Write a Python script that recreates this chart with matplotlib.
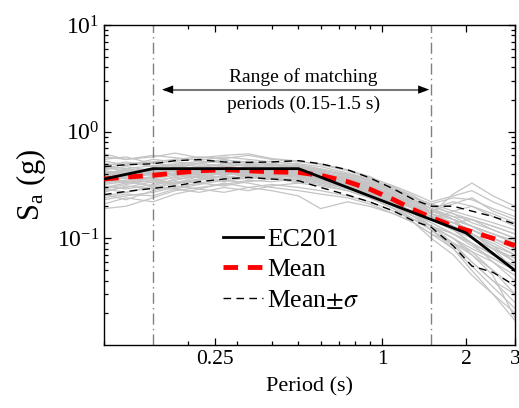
import numpy as np
import matplotlib
matplotlib.use("Agg")
import matplotlib.pyplot as plt
from matplotlib.ticker import FixedLocator, LogLocator, NullFormatter, FuncFormatter, LogFormatterSciNotation

plt.rcParams['font.family'] = ['Liberation Serif', 'DejaVu Serif']
plt.rcParams['mathtext.fontset'] = 'stix'

# ---- data ----
periods = [0.1, 0.12, 0.15, 0.18, 0.22, 0.27, 0.33, 0.4, 0.5, 0.6, 0.75, 0.9, 1.1, 1.3, 1.5, 1.8, 2.1, 2.5, 3.0]

records = [
    [.45, .50, .52, .55, .58, .56, .60, .55, .52, .50, .44, .38, .30, .24, .21, .18, .16, .14, .12],
    [.30, .33, .35, .37, .40, .42, .38, .40, .39, .36, .30, .26, .20, .16, .13, .10, .080, .065, .050],
    [.38, .42, .40, .44, .46, .50, .47, .45, .44, .41, .37, .31, .26, .21, .18, .16, .15, .13, .11],
    [.25, .27, .30, .34, .33, .36, .38, .36, .37, .35, .31, .27, .22, .17, .14, .11, .090, .070, .055],
    [.42, .40, .46, .48, .45, .47, .50, .48, .46, .42, .36, .30, .24, .20, .17, .26, .33, .25, .20],
    [.35, .37, .33, .38, .42, .40, .42, .44, .40, .38, .34, .28, .22, .17, .13, .09, .060, .040, .030],
    [.50, .48, .55, .52, .50, .54, .52, .50, .48, .44, .38, .33, .27, .22, .19, .15, .13, .11, .09],
    [.19, .20, .24, .28, .30, .32, .35, .34, .36, .33, .30, .25, .20, .15, .12, .085, .060, .040, .025],
    [.40, .43, .45, .42, .48, .45, .44, .47, .43, .40, .33, .28, .24, .19, .16, .14, .12, .10, .085],
    [.33, .35, .38, .40, .37, .41, .43, .40, .42, .40, .36, .31, .24, .19, .15, .12, .10, .080, .065],
    [.55, .58, .50, .53, .56, .52, .48, .50, .47, .43, .40, .35, .30, .25, .20, .17, .14, .12, .10],
    [.28, .30, .34, .32, .36, .38, .36, .38, .35, .33, .29, .25, .21, .18, .16, .13, .11, .090, .070],
    [.36, .34, .37, .41, .44, .43, .46, .42, .45, .42, .37, .31, .25, .20, .16, .12, .09, .060, .040],
    [.44, .47, .43, .46, .50, .48, .45, .43, .41, .38, .33, .30, .25, .22, .19, .22, .20, .16, .13],
    [.31, .29, .32, .35, .39, .37, .40, .41, .38, .35, .31, .27, .21, .16, .12, .080, .055, .035, .022],
    [.38, .36, .41, .39, .41, .44, .42, .45, .42, .40, .37, .33, .27, .22, .18, .15, .13, .11, .09],
    [.47, .45, .48, .50, .47, .50, .53, .49, .47, .44, .38, .32, .26, .21, .17, .14, .12, .095, .075],
    [.27, .31, .29, .33, .36, .34, .37, .39, .41, .39, .34, .29, .23, .19, .16, .14, .15, .12, .10],
    [.40, .38, .42, .45, .43, .46, .44, .46, .44, .42, .36, .30, .23, .17, .14, .11, .085, .065, .050],
    [.34, .37, .36, .39, .42, .45, .41, .43, .40, .37, .32, .27, .21, .18, .15, .12, .11, .085, .070],
    [.58, .55, .60, .57, .54, .58, .55, .52, .50, .47, .41, .36, .29, .24, .20, .17, .15, .13, .11],
    [.23, .25, .27, .30, .33, .31, .34, .36, .34, .32, .28, .24, .19, .15, .12, .090, .070, .050, .035],
    [.37, .41, .39, .43, .40, .43, .46, .44, .43, .41, .36, .31, .25, .21, .17, .14, .11, .085, .060],
    [.43, .41, .44, .42, .47, .44, .42, .44, .42, .39, .34, .29, .24, .20, .18, .21, .24, .18, .15],
    [.32, .34, .31, .36, .38, .41, .39, .37, .39, .37, .33, .28, .22, .17, .13, .10, .075, .050, .030],
    [.39, .37, .40, .44, .41, .39, .43, .41, .40, .38, .35, .31, .26, .21, .17, .13, .10, .080, .060],
    [.48, .52, .47, .49, .53, .51, .49, .46, .45, .41, .35, .30, .24, .19, .15, .12, .09, .070, .055],
    [.29, .32, .35, .33, .35, .39, .41, .39, .37, .36, .32, .28, .23, .19, .16, .14, .12, .10, .080],
    [.41, .44, .42, .40, .44, .47, .45, .42, .40, .37, .32, .27, .21, .16, .13, .10, .070, .045, .018],
    [.35, .33, .37, .41, .39, .42, .40, .38, .41, .39, .35, .30, .25, .20, .17, .15, .13, .11, .095],
    [.62, .55, .58, .63, .57, .60, .62, .56, .53, .49, .43, .37, .31, .26, .22, .25, .28, .22, .18],
    [.21, .24, .22, .26, .29, .27, .30, .28, .25, .19, .22, .20, .17, .14, .11, .080, .050, .030, .017],
    [.26, .23, .28, .31, .29, .33, .30, .32, .30, .28, .25, .22, .18, .15, .13, .11, .090, .070, .050],
    [.53, .49, .52, .47, .51, .55, .50, .53, .49, .45, .40, .35, .28, .23, .19, .16, .13, .10, .080],
    [.34, .39, .36, .33, .38, .35, .39, .37, .33, .35, .31, .26, .21, .17, .15, .18, .20, .17, .14],
    [.46, .43, .39, .43, .45, .42, .48, .45, .47, .43, .39, .34, .28, .23, .19, .15, .11, .080, .050],
    [.29, .27, .31, .29, .32, .35, .33, .30, .28, .26, .24, .21, .17, .14, .11, .090, .075, .060, .045],
    [.39, .45, .41, .47, .44, .48, .43, .49, .45, .41, .36, .33, .28, .24, .21, .24, .23, .19, .16],
    [.24, .26, .25, .29, .27, .30, .28, .31, .33, .31, .28, .24, .19, .14, .10, .070, .045, .030, .020],
    [.42, .39, .44, .40, .43, .40, .44, .40, .37, .34, .30, .26, .22, .19, .16, .13, .10, .080, .065],
]

mean_sa = [0.36, 0.375, 0.39, 0.41, 0.43, 0.44, 0.43, 0.42, 0.415, 0.39, 0.34, 0.29, 0.23, 0.185, 0.157, 0.13, 0.115, 0.10, 0.0855]
mean_plus = [0.47, 0.49, 0.50, 0.535, 0.547, 0.52, 0.515, 0.52, 0.535, 0.50, 0.44, 0.37, 0.29, 0.23, 0.20, 0.20, 0.18, 0.16, 0.136]
mean_minus = [0.257, 0.275, 0.294, 0.31, 0.34, 0.36, 0.373, 0.36, 0.347, 0.30, 0.255, 0.22, 0.18, 0.145, 0.127, 0.085, 0.055, 0.048, 0.036]

ec_periods = [0.1, 0.15, 0.5, 1.0, 2.0, 3.0]
ec_sa = [0.36, 0.45, 0.45, 0.225, 0.1125, 0.05]

range_lo, range_hi = 0.15, 1.5

# ---- figure ----
fig = plt.figure(figsize=(5.19, 4.08), dpi=100)
ax = fig.add_axes([0.2004, 0.1544, 0.7919, 0.7843])

for rec in records:
    ax.plot(periods, rec, color='#c4c4c4', lw=0.9, zorder=1)

ax.plot(ec_periods, ec_sa, color='black', lw=2.0, label='EC201', zorder=4)
ax.plot(periods, mean_sa, color='red', lw=3.5, ls=(0, (3, 2)), label='Mean', zorder=3)
ax.plot(periods, mean_plus, color='black', lw=1.0, ls=(0, (5.5, 3.8)), label=r'Mean$\pm\sigma$', zorder=3)
ax.plot(periods, mean_minus, color='black', lw=1.0, ls=(0, (5.5, 3.8)), zorder=3)

for xv in (range_lo, range_hi):
    ax.axvline(xv, color='#808080', lw=1.0, ls=(0, (8, 3, 1, 3)), zorder=2)

ax.set_xscale('log')
ax.set_yscale('log')
ax.set_xlim(0.1, 3)
ax.set_ylim(0.01, 10)

ax.xaxis.set_major_locator(FixedLocator([0.25, 1, 2, 3]))
ax.xaxis.set_major_formatter(FuncFormatter(lambda v, p: f'{v:g}'))
ax.xaxis.set_minor_locator(LogLocator(base=10, subs=np.arange(1, 10)))
ax.xaxis.set_minor_formatter(NullFormatter())
ax.yaxis.set_major_locator(FixedLocator([0.1, 1, 10]))
ax.yaxis.set_major_formatter(LogFormatterSciNotation())
ax.yaxis.set_minor_locator(LogLocator(base=10, subs=np.arange(2, 10)))
ax.yaxis.set_minor_formatter(NullFormatter())

ax.tick_params(which='both', direction='in', top=True, right=True, labelsize=15.5, width=0.9)
ax.tick_params(which='major', length=5)
ax.tick_params(which='minor', length=3)
ax.tick_params(axis='y', labelsize=17)
for s in ax.spines.values():
    s.set_linewidth(1.0)

ax.set_xlabel('Period (s)', fontsize=16, labelpad=6)
ax.set_ylabel(r'S$_\mathregular{a}$ (g)', fontsize=22, labelpad=6)

# annotation arrow
ya = 2.48
ax.plot([0.165, 1.42], [ya, ya], color='#777777', lw=1.5, zorder=5)
ax.annotate('', xy=(0.158, ya), xytext=(0.2, ya),
            arrowprops=dict(arrowstyle='-|>,head_length=0.8,head_width=0.3', color='black', lw=0), zorder=6)
ax.annotate('', xy=(1.51, ya), xytext=(1.2, ya),
            arrowprops=dict(arrowstyle='-|>,head_length=0.8,head_width=0.3', color='black', lw=0), zorder=6)
ax.text(0.52, ya * 1.32, 'Range of matching', ha='center', va='center', fontsize=14)
ax.text(0.52, ya / 1.36, 'periods (0.15-1.5 s)', ha='center', va='center', fontsize=14)

leg = ax.legend(loc='upper left', bbox_to_anchor=(0.29, 0.365), frameon=False, fontsize=18.5,
                handlelength=1.55, handletextpad=0.15, labelspacing=0.28, borderaxespad=0,
                borderpad=0)

fig.savefig('out.png', dpi=100)
